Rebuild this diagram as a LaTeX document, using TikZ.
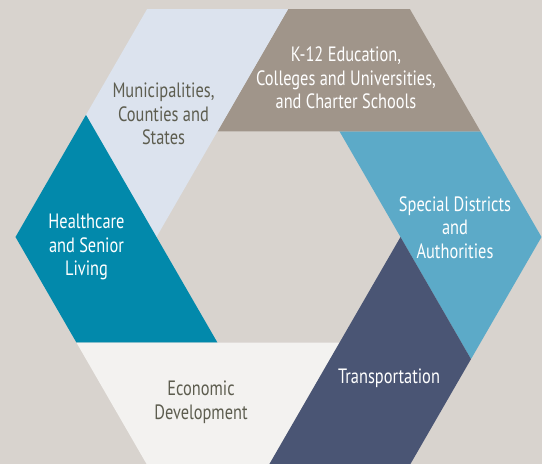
\documentclass[tikz,border=0pt]{standalone}
\usepackage{fontspec}
\setmainfont{PT Sans}[FakeStretch=0.79]
\usetikzlibrary{calc}
\definecolor{paper}{HTML}{D8D3CE}
\definecolor{cities}{HTML}{DCE3EE}
\definecolor{schools}{HTML}{A0958A}
\definecolor{districts}{HTML}{5CAAC8}
\definecolor{transit}{HTML}{4A5574}
\definecolor{economy}{HTML}{F3F2F0}
\definecolor{health}{HTML}{0289AB}
\definecolor{inkdark}{HTML}{5D5D4F}

\begin{document}
\begin{tikzpicture}[x=0.02cm,y=0.02cm,
    sector/.style={align=center,inner sep=0pt,font=\fontsize{11.8}{13.4}\selectfont},
    darksector/.style={sector,text=inkdark},
    lightsector/.style={sector,text=white}]
      \fill[paper] (-278.5,-227) rectangle (263.5,237);
      \useasboundingbox (-278.5,-227) rectangle (263.5,237);
      % outer corners, inner corners and cut ends
      \foreach \k in {0,...,5} {
        \coordinate (v\k) at (60*\k:263);
        \coordinate (i\k) at (60*\k:122);
        \coordinate (c\k) at ($(i\k)+(60*\k-60:141)$);
      }
      \fill[districts] (i1) -- (c1) -- (v0) -- (c0) -- (i0) -- cycle;
      \fill[schools] (i2) -- (c2) -- (v1) -- (c1) -- (i1) -- cycle;
      \fill[cities] (i3) -- (c3) -- (v2) -- (c2) -- (i2) -- cycle;
      \fill[health] (i4) -- (c4) -- (v3) -- (c3) -- (i3) -- cycle;
      \fill[economy] (i5) -- (c5) -- (v4) -- (c4) -- (i4) -- cycle;
      \fill[transit] (i0) -- (c0) -- (v5) -- (c5) -- (i5) -- cycle;
      \node[darksector] (muni) at (-115,123) {Municipalities,\\Counties and\\States};
      \node[lightsector] (edu) at (67.5,159) {K-12 Education,\\Colleges and Universities,\\and Charter Schools};
      \node[lightsector] (special) at (176.5,9.5) {Special Districts\\and\\Authorities};
      \node[lightsector] (care) at (-192,-10) {Healthcare\\and Senior\\Living};
      \node[darksector] (econ) at (-77.5,-165.5) {Economic\\Development};
      \node[lightsector] (trans) at (110.5,-141.5) {Transportation};
\end{tikzpicture}
\end{document}
